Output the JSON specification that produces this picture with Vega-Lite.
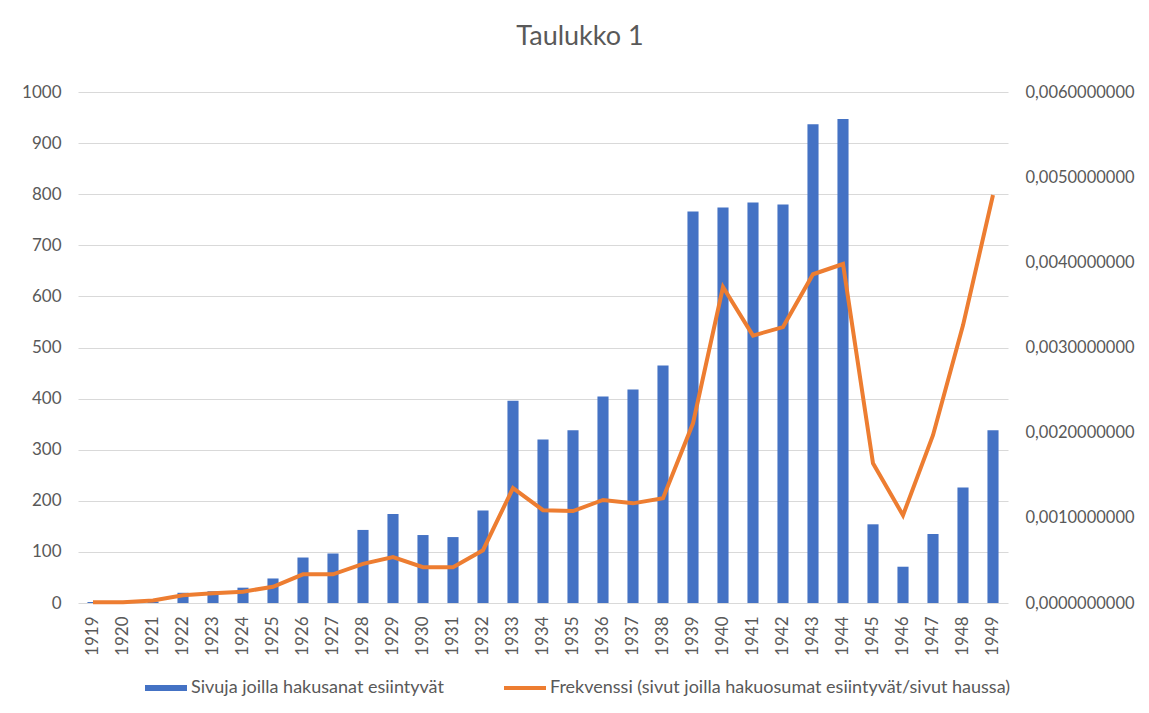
{
  "$schema": "https://vega.github.io/schema/vega-lite/v6.json",
  "width": 930,
  "height": 511,
  "autosize": {"type": "none"},
  "padding": {"left": 78, "top": 92, "right": 141, "bottom": 110},
  "background": "white",
  "config": {"font": "Lato", "view": {"stroke": null}},
  "title": {"text": "Taulukko 1", "fontSize": 27, "fontWeight": "normal", "color": "#595959", "dx": 37, "offset": 32},
  "data": {"values": [
    {"year": "1919", "pages": 2, "freq": 0.00001},
    {"year": "1920", "pages": 1, "freq": 0.00001},
    {"year": "1921", "pages": 3, "freq": 0.00003},
    {"year": "1922", "pages": 20, "freq": 0.00009},
    {"year": "1923", "pages": 23, "freq": 0.000114},
    {"year": "1924", "pages": 30, "freq": 0.000133},
    {"year": "1925", "pages": 48, "freq": 0.00019},
    {"year": "1926", "pages": 89, "freq": 0.000337},
    {"year": "1927", "pages": 97, "freq": 0.000337},
    {"year": "1928", "pages": 143, "freq": 0.00046},
    {"year": "1929", "pages": 174, "freq": 0.00054},
    {"year": "1930", "pages": 133, "freq": 0.00042},
    {"year": "1931", "pages": 129, "freq": 0.00042},
    {"year": "1932", "pages": 181, "freq": 0.00062},
    {"year": "1933", "pages": 396, "freq": 0.00135},
    {"year": "1934", "pages": 320, "freq": 0.00109},
    {"year": "1935", "pages": 338, "freq": 0.00108},
    {"year": "1936", "pages": 404, "freq": 0.00121},
    {"year": "1937", "pages": 418, "freq": 0.00117},
    {"year": "1938", "pages": 465, "freq": 0.00123},
    {"year": "1939", "pages": 766, "freq": 0.00211},
    {"year": "1940", "pages": 774, "freq": 0.00371},
    {"year": "1941", "pages": 784, "freq": 0.00314},
    {"year": "1942", "pages": 780, "freq": 0.00324},
    {"year": "1943", "pages": 937, "freq": 0.00386},
    {"year": "1944", "pages": 947, "freq": 0.00398},
    {"year": "1945", "pages": 154, "freq": 0.00164},
    {"year": "1946", "pages": 71, "freq": 0.00103},
    {"year": "1947", "pages": 135, "freq": 0.00197},
    {"year": "1948", "pages": 226, "freq": 0.00326},
    {"year": "1949", "pages": 338, "freq": 0.00479}
  ]},
  "encoding": {
    "x": {
      "field": "year", "type": "ordinal",
      "scale": {"paddingInner": 0.63, "paddingOuter": 0.315},
      "axis": {"title": null, "labelAngle": -90, "labelFontSize": 17, "labelColor": "#595959", "ticks": false, "domain": false, "labelPadding": 13}
    }
  },
  "layer": [
    {
      "mark": {"type": "bar"},
      "encoding": {
        "y": {
          "field": "pages", "type": "quantitative",
          "scale": {"domain": [0, 1000], "nice": false},
          "axis": {"title": null, "format": "d", "values": [0,100,200,300,400,500,600,700,800,900,1000], "labelFontSize": 17, "labelColor": "#595959", "ticks": false, "domain": false, "labelPadding": 17, "gridColor": "#d9d9d9", "gridWidth": 1}
        },
        "color": {
          "datum": "Sivuja joilla hakusanat esiintyvät", "type": "nominal",
          "scale": {"domain": ["Sivuja joilla hakusanat esiintyvät", "Frekvenssi (sivut joilla hakuosumat esiintyvät/sivut haussa)"], "range": ["#4472C4", "#ED7D31"]},
          "legend": {
            "title": null, "orient": "none", "legendX": 67, "legendY": 575, "direction": "horizontal",
            "labelFontSize": 18, "labelColor": "#595959", "labelLimit": 800, "columnPadding": 60,
            "symbolSize": 1764, "symbolStrokeWidth": 0, "labelOffset": 4,
            "encode": {"symbols": {"update": {
              "shape": {"signal": "datum.value === 'Sivuja joilla hakusanat esiintyvät' ? 'M-1,-0.14H1V0.14H-1Z' : 'M-1,-0.1H1V0.1H-1Z'"},
              "fill": {"scale": "color", "field": "value"},
              "strokeWidth": {"value": 0}
            }}}
          }
        }
      }
    },
    {
      "mark": {"type": "line", "strokeWidth": 4, "interpolate": "linear"},
      "encoding": {
        "y": {
          "field": "freq", "type": "quantitative",
          "scale": {"domain": [0, 0.006], "nice": false},
          "axis": {"title": null, "orient": "right", "values": [0,0.001,0.002,0.003,0.004,0.005,0.006], "labelExpr": "replace(format(datum.value, '.10f'), '.', ',')", "labelFontSize": 16.5, "labelColor": "#595959", "ticks": false, "domain": false, "grid": false, "labelPadding": 17}
        },
        "color": {"datum": "Frekvenssi (sivut joilla hakuosumat esiintyvät/sivut haussa)", "type": "nominal"}
      }
    }
  ],
  "resolve": {"scale": {"y": "independent"}}
}
